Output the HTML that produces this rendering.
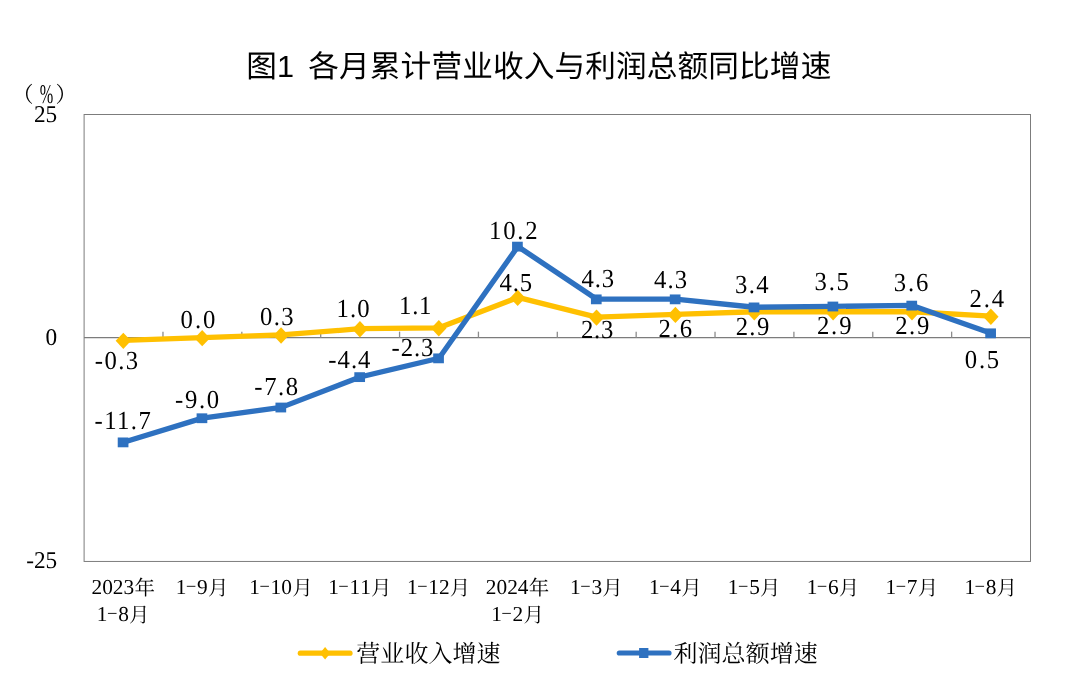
<!DOCTYPE html>
<html lang="zh"><head><meta charset="utf-8"><title>图1 各月累计营业收入与利润总额同比增速</title>
<style>
html,body{margin:0;padding:0;background:#fff}
body{width:1080px;height:680px;overflow:hidden;font-family:"Liberation Serif",serif}
svg{display:block}
svg text{font-family:"Liberation Serif",serif;fill:#000;text-rendering:geometricPrecision}
</style></head><body>
<svg width="1080" height="680" viewBox="0 0 1080 680">
<rect width="1080" height="680" fill="#fff"/>
<g opacity="0.999">
<g role="img" aria-label="图1 各月累计营业收入与利润总额同比增速"><title>图1 各月累计营业收入与利润总额同比增速</title>
<text x="246.3" y="77.3" font-size="30.67" style="font-family:'Liberation Sans','Noto Sans CJK SC',sans-serif">图1</text>
<text x="308.3" y="77.3" font-size="30.67" textLength="523" lengthAdjust="spacing" style="font-family:'Liberation Sans','Noto Sans CJK SC',sans-serif">各月累计营业收入与利润总额同比增速</text>
</g>
<text x="12.04" y="101.9" font-size="21.5" style="font-family:'Liberation Serif','Noto Serif CJK SC',serif">（</text>
<text x="55.62" y="101.9" font-size="21.5" style="font-family:'Liberation Serif','Noto Serif CJK SC',serif">）</text>
<text transform="translate(39.8 102.8) scale(0.60 1.0)" font-size="27">%</text>
<text transform="translate(57.2 122.0) scale(0.97 1)" font-size="24" text-anchor="end">25</text>
<text transform="translate(57.2 345.1) scale(0.97 1)" font-size="24" text-anchor="end">0</text>
<text transform="translate(57.2 568.0) scale(0.97 1)" font-size="24" text-anchor="end">-25</text>
<rect x="84.1" y="114.5" width="946.4" height="446.95000000000005" fill="none" stroke="#7c7c7c" stroke-width="1"/>
<line x1="84.1" y1="337.65" x2="1030.5" y2="337.65" stroke="#7c7c7c" stroke-width="1.2"/>
<line x1="162.97" y1="331.65" x2="162.97" y2="337.65" stroke="#8c8c8c" stroke-width="1.3"/>
<line x1="241.83" y1="331.65" x2="241.83" y2="337.65" stroke="#8c8c8c" stroke-width="1.3"/>
<line x1="320.70" y1="331.65" x2="320.70" y2="337.65" stroke="#8c8c8c" stroke-width="1.3"/>
<line x1="399.57" y1="331.65" x2="399.57" y2="337.65" stroke="#8c8c8c" stroke-width="1.3"/>
<line x1="478.43" y1="331.65" x2="478.43" y2="337.65" stroke="#8c8c8c" stroke-width="1.3"/>
<line x1="557.30" y1="331.65" x2="557.30" y2="337.65" stroke="#8c8c8c" stroke-width="1.3"/>
<line x1="636.17" y1="331.65" x2="636.17" y2="337.65" stroke="#8c8c8c" stroke-width="1.3"/>
<line x1="715.03" y1="331.65" x2="715.03" y2="337.65" stroke="#8c8c8c" stroke-width="1.3"/>
<line x1="793.90" y1="331.65" x2="793.90" y2="337.65" stroke="#8c8c8c" stroke-width="1.3"/>
<line x1="872.77" y1="331.65" x2="872.77" y2="337.65" stroke="#8c8c8c" stroke-width="1.3"/>
<line x1="951.63" y1="331.65" x2="951.63" y2="337.65" stroke="#8c8c8c" stroke-width="1.3"/>
<polyline points="123.53,340.33 202.40,337.65 281.27,334.97 360.13,328.71 439.00,327.82 517.87,297.42 596.73,317.09 675.60,314.41 754.47,311.73 833.33,311.73 912.20,311.73 991.07,316.20" fill="none" stroke="#FFC000" stroke-width="5.3" stroke-linejoin="round" stroke-linecap="round"/>
<path d="M115.63 340.83L123.33 332.63L131.03 340.83L123.33 349.03Z" fill="#FFC000"/>
<path d="M194.50 338.15L202.20 329.95L209.90 338.15L202.20 346.35Z" fill="#FFC000"/>
<path d="M273.37 335.47L281.07 327.27L288.77 335.47L281.07 343.67Z" fill="#FFC000"/>
<path d="M352.23 329.21L359.93 321.01L367.63 329.21L359.93 337.41Z" fill="#FFC000"/>
<path d="M431.10 328.32L438.80 320.12L446.50 328.32L438.80 336.52Z" fill="#FFC000"/>
<path d="M509.97 297.92L517.67 289.72L525.37 297.92L517.67 306.12Z" fill="#FFC000"/>
<path d="M588.83 317.59L596.53 309.39L604.23 317.59L596.53 325.79Z" fill="#FFC000"/>
<path d="M667.70 314.91L675.40 306.71L683.10 314.91L675.40 323.11Z" fill="#FFC000"/>
<path d="M746.57 312.23L754.27 304.03L761.97 312.23L754.27 320.43Z" fill="#FFC000"/>
<path d="M825.43 312.23L833.13 304.03L840.83 312.23L833.13 320.43Z" fill="#FFC000"/>
<path d="M904.30 312.23L912.00 304.03L919.70 312.23L912.00 320.43Z" fill="#FFC000"/>
<path d="M983.17 316.70L990.87 308.50L998.57 316.70L990.87 324.90Z" fill="#FFC000"/>
<polyline points="123.53,442.24 202.40,418.10 281.27,407.37 360.13,376.98 439.00,358.21 517.87,246.47 596.73,299.21 675.60,299.21 754.47,307.26 833.33,306.36 912.20,305.47 991.07,333.18" fill="none" stroke="#2E71C0" stroke-width="5.3" stroke-linejoin="round" stroke-linecap="round"/>
<rect x="117.73" y="437.49" width="10.7" height="9.8" fill="#2E71C0"/>
<rect x="196.60" y="413.35" width="10.7" height="9.8" fill="#2E71C0"/>
<rect x="275.47" y="402.62" width="10.7" height="9.8" fill="#2E71C0"/>
<rect x="354.33" y="372.23" width="10.7" height="9.8" fill="#2E71C0"/>
<rect x="433.20" y="353.46" width="10.7" height="9.8" fill="#2E71C0"/>
<rect x="512.07" y="241.72" width="10.7" height="9.8" fill="#2E71C0"/>
<rect x="590.93" y="294.46" width="10.7" height="9.8" fill="#2E71C0"/>
<rect x="669.80" y="294.46" width="10.7" height="9.8" fill="#2E71C0"/>
<rect x="748.67" y="302.51" width="10.7" height="9.8" fill="#2E71C0"/>
<rect x="827.53" y="301.61" width="10.7" height="9.8" fill="#2E71C0"/>
<rect x="906.40" y="300.72" width="10.7" height="9.8" fill="#2E71C0"/>
<rect x="985.27" y="328.43" width="10.7" height="9.8" fill="#2E71C0"/>
<text transform="translate(94.83 369.15) scale(0.95 1)" font-size="26" letter-spacing="1.50">-0.3</text>
<text transform="translate(180.56 327.90) scale(0.95 1)" font-size="26" letter-spacing="2.11">0.0</text>
<text transform="translate(260.06 324.65) scale(0.95 1)" font-size="26" letter-spacing="1.46">0.3</text>
<text transform="translate(94.58 428.80) scale(0.95 1)" font-size="26" letter-spacing="1.49">-11.7</text>
<text transform="translate(175.08 407.90) scale(0.95 1)" font-size="26" letter-spacing="1.76">-9.0</text>
<text transform="translate(254.33 395.40) scale(0.95 1)" font-size="26" letter-spacing="1.67">-7.8</text>
<text transform="translate(336.58 317.40) scale(0.95 1)" font-size="26" letter-spacing="1.18">1.0</text>
<text transform="translate(399.08 313.65) scale(0.95 1)" font-size="26" letter-spacing="0.80">1.1</text>
<text transform="translate(328.33 367.90) scale(0.95 1)" font-size="26" letter-spacing="1.04">-4.4</text>
<text transform="translate(391.58 356.15) scale(0.95 1)" font-size="26" letter-spacing="0.98">-2.3</text>
<text transform="translate(489.08 238.65) scale(0.95 1)" font-size="26" letter-spacing="1.86">10.2</text>
<text transform="translate(499.52 290.90) scale(0.95 1)" font-size="26" letter-spacing="0.96">4.5</text>
<text transform="translate(581.52 287.40) scale(0.95 1)" font-size="26" letter-spacing="0.96">4.3</text>
<text transform="translate(654.02 288.40) scale(0.95 1)" font-size="26" letter-spacing="1.22">4.3</text>
<text transform="translate(735.07 292.90) scale(0.95 1)" font-size="26" letter-spacing="1.42">3.4</text>
<text transform="translate(580.91 337.90) scale(0.95 1)" font-size="26" letter-spacing="0.88">2.3</text>
<text transform="translate(658.41 337.40) scale(0.95 1)" font-size="26" letter-spacing="1.42">2.6</text>
<text transform="translate(735.66 335.40) scale(0.95 1)" font-size="26" letter-spacing="1.43">2.9</text>
<text transform="translate(814.57 290.40) scale(0.95 1)" font-size="26" letter-spacing="1.85">3.5</text>
<text transform="translate(893.82 291.15) scale(0.95 1)" font-size="26" letter-spacing="1.86">3.6</text>
<text transform="translate(969.41 306.65) scale(0.95 1)" font-size="26" letter-spacing="2.02">2.4</text>
<text transform="translate(816.91 334.15) scale(0.95 1)" font-size="26" letter-spacing="1.96">2.9</text>
<text transform="translate(895.16 333.65) scale(0.95 1)" font-size="26" letter-spacing="1.70">2.9</text>
<text transform="translate(964.81 367.90) scale(0.95 1)" font-size="26" letter-spacing="1.86">0.5</text>
<g aria-label="2023年"><title>2023年</title>
<text x="91.54" y="593.80" font-size="21.33">2</text>
<text x="102.20" y="593.80" font-size="21.33">0</text>
<text x="112.87" y="593.80" font-size="21.33">2</text>
<text x="123.53" y="593.80" font-size="21.33">3</text>
<text x="134.40" y="594.70" font-size="20.5" style="font-family:'Liberation Serif','Noto Serif CJK SC',serif">年</text>
</g>
<g aria-label="1-8月"><title>1-8月</title>
<text x="96.87" y="620.90" font-size="21.33">1</text>
<rect x="107.94" y="612.90" width="8.6" height="1.1" fill="#333"/>
<text x="118.20" y="620.90" font-size="21.33">8</text>
<text x="129.07" y="621.80" font-size="20.5" style="font-family:'Liberation Serif','Noto Serif CJK SC',serif">月</text>
</g>
<g aria-label="1-9月"><title>1-9月</title>
<text x="175.74" y="593.80" font-size="21.33">1</text>
<rect x="186.80" y="585.80" width="8.6" height="1.1" fill="#333"/>
<text x="197.07" y="593.80" font-size="21.33">9</text>
<text x="207.93" y="594.70" font-size="20.5" style="font-family:'Liberation Serif','Noto Serif CJK SC',serif">月</text>
</g>
<g aria-label="1-10月"><title>1-10月</title>
<text x="249.27" y="593.80" font-size="21.33">1</text>
<rect x="260.34" y="585.80" width="8.6" height="1.1" fill="#333"/>
<text x="270.60" y="593.80" font-size="21.33">1</text>
<text x="281.27" y="593.80" font-size="21.33">0</text>
<text x="292.13" y="594.70" font-size="20.5" style="font-family:'Liberation Serif','Noto Serif CJK SC',serif">月</text>
</g>
<g aria-label="1-11月"><title>1-11月</title>
<text x="328.14" y="593.80" font-size="21.33">1</text>
<rect x="339.20" y="585.80" width="8.6" height="1.1" fill="#333"/>
<text x="349.47" y="593.80" font-size="21.33">1</text>
<text x="360.13" y="593.80" font-size="21.33">1</text>
<text x="371.00" y="594.70" font-size="20.5" style="font-family:'Liberation Serif','Noto Serif CJK SC',serif">月</text>
</g>
<g aria-label="1-12月"><title>1-12月</title>
<text x="407.00" y="593.80" font-size="21.33">1</text>
<rect x="418.07" y="585.80" width="8.6" height="1.1" fill="#333"/>
<text x="428.34" y="593.80" font-size="21.33">1</text>
<text x="439.00" y="593.80" font-size="21.33">2</text>
<text x="449.87" y="594.70" font-size="20.5" style="font-family:'Liberation Serif','Noto Serif CJK SC',serif">月</text>
</g>
<g aria-label="2024年"><title>2024年</title>
<text x="485.87" y="593.80" font-size="21.33">2</text>
<text x="496.54" y="593.80" font-size="21.33">0</text>
<text x="507.20" y="593.80" font-size="21.33">2</text>
<text x="517.87" y="593.80" font-size="21.33">4</text>
<text x="528.73" y="594.70" font-size="20.5" style="font-family:'Liberation Serif','Noto Serif CJK SC',serif">年</text>
</g>
<g aria-label="1-2月"><title>1-2月</title>
<text x="491.20" y="620.90" font-size="21.33">1</text>
<rect x="502.27" y="612.90" width="8.6" height="1.1" fill="#333"/>
<text x="512.53" y="620.90" font-size="21.33">2</text>
<text x="523.40" y="621.80" font-size="20.5" style="font-family:'Liberation Serif','Noto Serif CJK SC',serif">月</text>
</g>
<g aria-label="1-3月"><title>1-3月</title>
<text x="570.07" y="593.80" font-size="21.33">1</text>
<rect x="581.14" y="585.80" width="8.6" height="1.1" fill="#333"/>
<text x="591.40" y="593.80" font-size="21.33">3</text>
<text x="602.27" y="594.70" font-size="20.5" style="font-family:'Liberation Serif','Noto Serif CJK SC',serif">月</text>
</g>
<g aria-label="1-4月"><title>1-4月</title>
<text x="648.94" y="593.80" font-size="21.33">1</text>
<rect x="660.00" y="585.80" width="8.6" height="1.1" fill="#333"/>
<text x="670.27" y="593.80" font-size="21.33">4</text>
<text x="681.13" y="594.70" font-size="20.5" style="font-family:'Liberation Serif','Noto Serif CJK SC',serif">月</text>
</g>
<g aria-label="1-5月"><title>1-5月</title>
<text x="727.80" y="593.80" font-size="21.33">1</text>
<rect x="738.87" y="585.80" width="8.6" height="1.1" fill="#333"/>
<text x="749.13" y="593.80" font-size="21.33">5</text>
<text x="760.00" y="594.70" font-size="20.5" style="font-family:'Liberation Serif','Noto Serif CJK SC',serif">月</text>
</g>
<g aria-label="1-6月"><title>1-6月</title>
<text x="806.67" y="593.80" font-size="21.33">1</text>
<rect x="817.74" y="585.80" width="8.6" height="1.1" fill="#333"/>
<text x="828.00" y="593.80" font-size="21.33">6</text>
<text x="838.87" y="594.70" font-size="20.5" style="font-family:'Liberation Serif','Noto Serif CJK SC',serif">月</text>
</g>
<g aria-label="1-7月"><title>1-7月</title>
<text x="885.54" y="593.80" font-size="21.33">1</text>
<rect x="896.60" y="585.80" width="8.6" height="1.1" fill="#333"/>
<text x="906.87" y="593.80" font-size="21.33">7</text>
<text x="917.73" y="594.70" font-size="20.5" style="font-family:'Liberation Serif','Noto Serif CJK SC',serif">月</text>
</g>
<g aria-label="1-8月"><title>1-8月</title>
<text x="964.40" y="593.80" font-size="21.33">1</text>
<rect x="975.47" y="585.80" width="8.6" height="1.1" fill="#333"/>
<text x="985.73" y="593.80" font-size="21.33">8</text>
<text x="996.60" y="594.70" font-size="20.5" style="font-family:'Liberation Serif','Noto Serif CJK SC',serif">月</text>
</g>
<line x1="300.3" y1="653.2" x2="350.0" y2="653.2" stroke="#FFC000" stroke-width="5.2" stroke-linecap="round"/>
<path d="M319.9 653.3L325.1 647.0L330.3 653.3L325.1 659.6Z" fill="#FFC000"/>
<g aria-label="营业收入增速"><title>营业收入增速</title>
<text x="356.3" y="662" font-size="24" textLength="144.3" lengthAdjust="spacing" style="font-family:'Liberation Serif','Noto Serif CJK SC',serif">营业收入增速</text>
</g>
<line x1="619.3" y1="653.0" x2="669.0" y2="653.0" stroke="#2E71C0" stroke-width="5.2" stroke-linecap="round"/>
<rect x="639.1" y="648.0" width="9.3" height="10" fill="#2E71C0"/>
<g aria-label="利润总额增速"><title>利润总额增速</title>
<text x="673.5" y="662" font-size="24" textLength="144.3" lengthAdjust="spacing" style="font-family:'Liberation Serif','Noto Serif CJK SC',serif">利润总额增速</text>
</g>
</g>
</svg>
</body></html>
